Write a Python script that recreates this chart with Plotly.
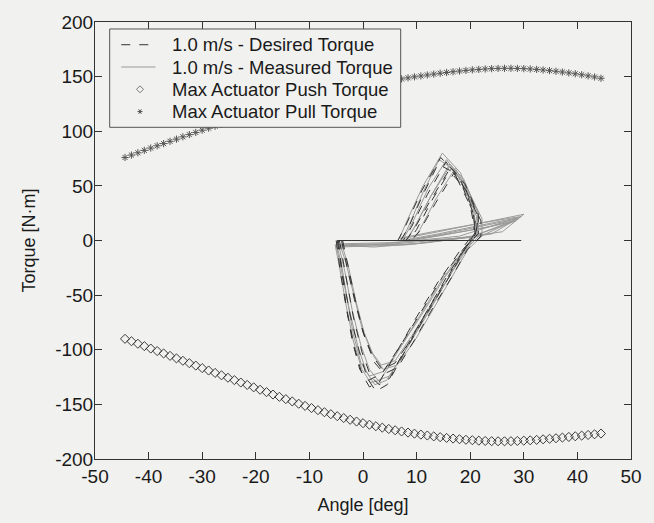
import plotly.graph_objects as go

# ---------------- data ----------------
angle_grid = [-44.4, -43.2, -42.0, -40.8, -39.6, -38.4, -37.2, -36.0, -34.8, -33.6,
              -32.4, -31.2, -30.0, -28.8, -27.6, -26.4, -25.2, -24.0, -22.8, -21.6,
              -20.4, -19.2, -18.0, -16.8, -15.6, -14.4, -13.2, -12.0, -10.8, -9.6,
              -8.4, -7.2, -6.0, -4.8, -3.6, -2.4, -1.2, 0.0, 1.2, 2.4,
              3.6, 4.8, 6.0, 7.2, 8.4, 9.6, 10.8, 12.0, 13.2, 14.4,
              15.6, 16.8, 18.0, 19.2, 20.4, 21.6, 22.8, 24.0, 25.2, 26.4,
              27.6, 28.8, 30.0, 31.2, 32.4, 33.6, 34.8, 36.0, 37.2, 38.4,
              39.6, 40.8, 42.0, 43.2, 44.4]

pull_torque = [76.0, 78.2, 80.3, 82.5, 84.6, 86.7, 88.7, 90.8, 92.8, 94.9,
               96.9, 98.9, 101.0, 102.8, 104.6, 106.4, 108.2, 110.0, 111.8, 113.6,
               115.4, 117.1, 118.8, 120.5, 122.2, 123.8, 125.4, 127.0, 128.5, 130.0,
               131.5, 133.0, 134.4, 135.8, 137.2, 138.5, 139.8, 141.0, 142.2, 143.4,
               144.6, 145.8, 146.9, 147.9, 148.9, 149.8, 150.6, 151.5, 152.3, 153.1,
               153.8, 154.5, 155.1, 155.7, 156.2, 156.6, 157.0, 157.3, 157.5, 157.6,
               157.6, 157.5, 157.3, 157.0, 156.6, 156.1, 155.5, 154.9, 154.2, 153.4,
               152.6, 151.7, 150.7, 149.7, 148.5]

push_torque = [-90.0, -92.2, -94.5, -96.7, -98.9, -101.2, -103.4, -105.6, -107.9, -110.1,
               -112.3, -114.5, -116.8, -119.0, -121.2, -123.4, -125.6, -127.8, -130.0, -132.2,
               -134.4, -136.6, -138.8, -141.0, -143.1, -145.2, -147.3, -149.4, -151.4, -153.4,
               -155.3, -157.2, -159.0, -160.8, -162.5, -164.1, -165.7, -167.2, -168.6, -170.0,
               -171.3, -172.5, -173.7, -174.8, -175.8, -176.8, -177.7, -178.5, -179.3, -180.0,
               -180.7, -181.3, -181.9, -182.4, -182.8, -183.2, -183.5, -183.7, -183.8, -183.8,
               -183.7, -183.5, -183.2, -182.9, -182.5, -182.0, -181.5, -181.0, -180.4, -179.8,
               -179.2, -178.6, -178.0, -177.4, -176.7]

desired_angle_trials = [
    [-5.0, -4.2, -3.0, -1.6, -0.2, 1.2, 3.0, 6.0, 10.0, 14.0, 18.0, 20.5, 21.0, 18.5, 15.5, 12.0, 9.0, 7.5, 18.0, 29.0, 12.0, -5.0],
    [-4.6, -4.0, -3.2, -2.0, -0.6, 1.0, 3.5, 7.0, 11.0, 15.0, 19.0, 21.5, 21.5, 19.0, 16.5, 13.0, 10.0, 8.5, 20.0, 28.5, 10.0, -4.6],
    [-4.4, -3.2, -1.8, -0.2, 1.4, 3.0, 5.0, 8.0, 12.0, 16.0, 19.5, 21.0, 20.5, 18.0, 14.5, 11.0, 8.0, 6.5, 17.0, 29.5, 8.0, -4.4],
    [-3.8, -2.6, -1.2, 0.4, 2.2, 4.0, 6.5, 9.5, 13.0, 16.5, 19.5, 22.0, 22.0, 19.5, 17.0, 13.5, 10.5, 9.0, 20.0, 28.0, 6.0, -3.8],
    [-4.8, -3.8, -2.4, -0.8, 0.8, 2.4, 4.5, 8.0, 12.0, 16.0, 19.0, 21.0, 20.0, 17.0, 14.0, 11.0, 8.5, 7.0, 16.0, 29.0, 14.0, -4.8],
    [-4.0, -3.0, -1.6, 0.0, 1.8, 3.6, 6.0, 9.0, 12.5, 16.0, 19.0, 21.0, 21.5, 19.0, 16.0, 12.5, 9.5, 8.0, 19.0, 27.5, 9.0, -4.0],
]
desired_torque_trials = [
    [0, -30, -65, -98, -122, -134, -130, -104, -70, -38, -10, 5, 20, 50, 72, 42, 12, 0, 0, 0, 0, 0],
    [0, -26, -58, -92, -118, -128, -122, -96, -64, -32, -6, 6, 24, 52, 66, 38, 10, 0, 0, 0, 0, 0],
    [0, -34, -70, -102, -124, -132, -126, -98, -64, -30, -4, 8, 28, 58, 76, 46, 14, 0, 0, 0, 0, 0],
    [0, -28, -60, -90, -112, -122, -116, -92, -62, -34, -8, 4, 18, 44, 62, 34, 8, 0, 0, 0, 0, 0],
    [0, -32, -68, -100, -126, -138, -132, -100, -66, -34, -8, 6, 32, 62, 70, 40, 12, 0, 0, 0, 0, 0],
    [0, -24, -54, -84, -106, -118, -112, -90, -60, -32, -6, 4, 22, 48, 64, 36, 10, 0, 0, 0, 0, 0],
]

measured_angle_trials = [
    [-5.2, -4.4, -3.2, -1.8, -0.2, 1.4, 3.2, 6.2, 10.2, 14.2, 18.2, 20.8, 21.2, 18.8, 15.6, 12.2, 9.2, 7.6, 14.0, 22.0, 29.5, 24.0, 12.0, 2.0, -5.2],
    [-4.8, -4.0, -3.0, -1.8, -0.4, 1.2, 3.8, 7.2, 11.2, 15.2, 19.2, 21.6, 21.4, 18.8, 16.2, 12.8, 9.8, 8.2, 15.0, 23.0, 29.0, 22.0, 8.0, -4.8],
    [-4.5, -3.4, -2.0, -0.4, 1.2, 2.8, 5.0, 8.2, 12.2, 16.2, 19.6, 21.2, 20.6, 18.2, 14.8, 11.2, 8.2, 6.8, 13.0, 21.0, 30.0, 26.0, 10.0, -4.5],
    [-4.0, -2.8, -1.4, 0.2, 2.0, 3.8, 6.4, 9.6, 13.2, 16.6, 19.6, 22.2, 22.2, 19.6, 17.2, 13.6, 10.6, 9.2, 16.0, 24.0, 28.5, 20.0, 5.0, -4.0],
    [-5.0, -4.0, -2.6, -1.0, 0.6, 2.2, 4.4, 8.0, 12.0, 16.0, 19.0, 21.0, 20.2, 17.2, 14.2, 11.2, 8.6, 7.2, 14.0, 22.0, 29.0, 18.0, 4.0, -5.0],
    [-4.2, -3.2, -1.8, -0.2, 1.6, 3.4, 6.0, 9.0, 12.6, 16.2, 19.2, 21.2, 21.6, 19.2, 16.2, 12.6, 9.6, 8.0, 15.0, 23.0, 28.0, 20.0, 6.0, -4.2],
]
measured_torque_trials = [
    [-4, -24, -58, -92, -118, -130, -128, -104, -72, -40, -12, 4, 22, 52, 74, 48, 16, 2, 8, 16, 22, 6, -2, -6, -4],
    [-6, -22, -52, -86, -112, -124, -120, -96, -66, -34, -8, 4, 26, 56, 70, 42, 14, 0, 6, 14, 20, 4, -4, -6],
    [-5, -28, -64, -96, -118, -128, -124, -98, -66, -32, -6, 6, 30, 62, 80, 50, 18, 2, 8, 15, 24, 8, -3, -5],
    [-3, -22, -54, -84, -106, -118, -114, -92, -62, -34, -8, 4, 20, 46, 66, 38, 10, 0, 6, 13, 18, 3, -2, -3],
    [-4, -28, -62, -96, -120, -132, -128, -100, -66, -34, -8, 6, 34, 64, 74, 44, 14, 0, 6, 14, 21, 4, -3, -4],
    [-5, -20, -48, -80, -102, -114, -110, -88, -60, -32, -6, 4, 24, 50, 68, 40, 12, 0, 5, 12, 18, 3, -3, -5],
]

x_ticks = [-50, -40, -30, -20, -10, 0, 10, 20, 30, 40, 50]
x_tick_text = ["-50", "-40", "-30", "-20", "-10", "0", "10", "20", "30", "40", "50"]
y_ticks = [-200, -150, -100, -50, 0, 50, 100, 150, 200]
y_tick_text = ["-200", "-150", "-100", "-50", "0", "50", "100", "150", "200"]

legend_labels = ["1.0 m/s - Desired Torque", "1.0 m/s - Measured Torque",
                 "Max Actuator Push Torque", "Max Actuator Pull Torque"]

# ---------------- figure ----------------
FONT = "Liberation Sans, Arial, sans-serif"
BG = "#f1f1ef"
DES_COLOR = "#333333"
MEAS_COLOR = "#9a9a9a"
PUSH_COLOR = "#3a3a3a"
PULL_COLOR = "#555555"

fig = go.Figure()

for a, t in zip(measured_angle_trials, measured_torque_trials):
    fig.add_trace(go.Scatter(
        x=a, y=t, mode="lines", line=dict(color=MEAS_COLOR, width=1),
        name=legend_labels[1], showlegend=False))

for a, t in zip(desired_angle_trials, desired_torque_trials):
    fig.add_trace(go.Scatter(
        x=a, y=t, mode="lines", line=dict(color=DES_COLOR, width=1, dash="dash"),
        name=legend_labels[0], showlegend=False))

fig.add_trace(go.Scatter(
    x=angle_grid, y=push_torque, mode="markers",
    marker=dict(symbol="diamond-open", size=7, color=PUSH_COLOR, line=dict(width=1)),
    name=legend_labels[2], showlegend=False))

fig.add_trace(go.Scatter(
    x=angle_grid, y=pull_torque, mode="markers",
    marker=dict(symbol="asterisk-open", size=6, color=PULL_COLOR, line=dict(width=1, color=PULL_COLOR)),
    name=legend_labels[3], showlegend=False))

axis_common = dict(
    showgrid=False, zeroline=False,
    showline=True, linecolor="#333333", linewidth=1, mirror="ticks",
    ticks="inside", ticklen=7, tickcolor="#333333",
    tickfont=dict(family=FONT, size=19, color="#1a1a1a"),
)

fig.update_xaxes(range=[-50, 50], tickvals=x_ticks, ticktext=x_tick_text,
                 title=dict(text="Angle [deg]", font=dict(family=FONT, size=18, color="#1a1a1a"), standoff=12),
                 **axis_common)
fig.update_yaxes(range=[-200, 200], tickvals=y_ticks, ticktext=y_tick_text,
                 ticklabelstandoff=-3,
                 title=dict(text="Torque [N·m]", font=dict(family=FONT, size=18, color="#1a1a1a"), standoff=14),
                 **axis_common)

# ---- legend box (drawn by hand to match the original's compact rows) ----
leg_x0, leg_x1 = 0.0274, 0.5703
leg_y0, leg_y1 = 0.759, 0.984
row_y = [0.948, 0.897, 0.846, 0.795]
text_x = 0.1408
samp_x0, samp_x1 = 0.049, 0.113
samp_xc = 0.084

shapes = [
    dict(type="rect", xref="paper", yref="paper", x0=leg_x0, x1=leg_x1, y0=leg_y0, y1=leg_y1,
         line=dict(color="#555555", width=1), fillcolor=BG, layer="above"),
    dict(type="line", xref="paper", yref="paper", x0=samp_x0, x1=samp_x1, y0=row_y[0], y1=row_y[0],
         line=dict(color=DES_COLOR, width=1, dash="dash"), layer="above"),
    dict(type="line", xref="paper", yref="paper", x0=samp_x0, x1=samp_x1, y0=row_y[1], y1=row_y[1],
         line=dict(color=MEAS_COLOR, width=1), layer="above"),
    dict(type="path", xref="paper", yref="paper", xsizemode="pixel", ysizemode="pixel",
         xanchor=samp_xc, yanchor=row_y[2],
         path="M0,3.5 L3.5,0 L0,-3.5 L-3.5,0 Z",
         line=dict(color="#777777", width=1), fillcolor="rgba(0,0,0,0)", layer="above"),
    dict(type="path", xref="paper", yref="paper", xsizemode="pixel", ysizemode="pixel",
         xanchor=samp_xc, yanchor=row_y[3],
         path="M-2.5,0 L2.5,0 M-1.3,-2.2 L1.3,2.2 M-1.3,2.2 L1.3,-2.2",
         line=dict(color=PULL_COLOR, width=1), layer="above"),
]

annotations = [
    dict(x=text_x, y=ry, xref="paper", yref="paper", text=lab, showarrow=False,
         xanchor="left", yanchor="middle",
         font=dict(family=FONT, size=18.5, color="#1a1a1a"))
    for ry, lab in zip(row_y, legend_labels)
]

fig.update_layout(
    width=654, height=523,
    margin=dict(l=95, r=12, t=20, b=59),
    paper_bgcolor=BG, plot_bgcolor=BG,
    font=dict(family=FONT, color="#1a1a1a"),
    showlegend=False,
    shapes=shapes,
    annotations=annotations,
)

fig.write_html("out.html")
